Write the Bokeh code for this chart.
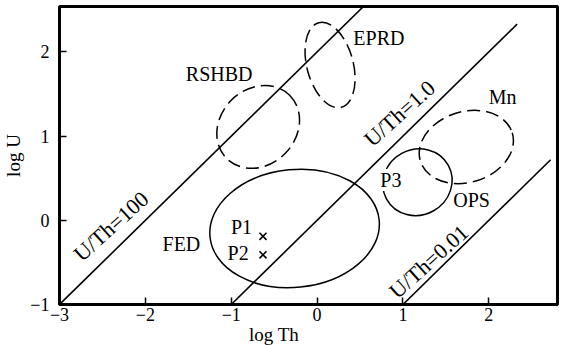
from bokeh.plotting import figure
from bokeh.models import Label, FixedTicker, Range1d, LinearAxis
from bokeh.embed import file_html
from bokeh.resources import INLINE
import math

# ---- data ----
x_ticks = [-3, -2, -1, 0, 1, 2]
x_tick_labels = ["\u22123", "\u22122", "\u22121", "0", "1", "2"]
y_ticks = [-1, 0, 1, 2]
y_tick_labels = ["\u22121", "0", "1", "2"]
x_title = "log Th"
x_title_pos = -0.5
y_title = "log U"

# U/Th ratio lines: log U = log Th + log10(ratio)
ratio_names = ["U/Th=100", "U/Th=1.0", "U/Th=0.01"]
ratio_log = [2.0, 0.0, -2.0]
ratio_x_start = [-3.0, -1.0, 1.0]
ratio_x_end = [0.54, 2.33, 2.72]
ratio_label_x = [-2.40, 0.96, 1.30]
ratio_label_y = [-0.07, 1.27, -0.49]

# field regions (ellipse approximations): centre, width, height, angle
region_names = ["RSHBD", "EPRD", "FED", "P3", "Mn"]
region_x = [-0.686, 0.151, -0.262, 1.169, 1.738]
region_y = [1.110, 1.845, -0.097, 0.453, 0.871]
region_w = [1.04, 1.02, 1.98, 0.82, 1.12]
region_h = [0.90, 0.55, 1.40, 0.78, 0.84]
region_angle = [0.79, 1.83, 0.10, 0.50, 0.30]
region_dashed = [True, True, False, False, True]

# text labels inside the plot
text_labels = ["RSHBD", "EPRD", "Mn", "P3", "OPS", "FED", "P1", "P2"]
text_x = [-1.14, 0.72, 2.16, 0.86, 1.80, -1.58, -0.88, -0.92]
text_y = [1.74, 2.17, 1.46, 0.48, 0.24, -0.28, -0.08, -0.39]

# sample points
sample_names = ["P1", "P2"]
sample_x = [-0.63, -0.63]
sample_y = [-0.19, -0.41]

FONT = "Liberation Serif"

p = figure(frame_width=498, frame_height=298,
           x_range=Range1d(-3, 2.8), y_range=Range1d(-1, 2.54),
           output_backend="svg", toolbar_location=None,
           min_border_left=54, min_border_right=3,
           min_border_top=6, min_border_bottom=41)
p.grid.visible = False
p.background_fill_color = "white"
p.border_fill_color = "white"
p.outline_line_color = "black"
p.outline_line_width = 3

for ax, ticks, labels in ((p.xaxis[0], x_ticks, x_tick_labels),
                          (p.yaxis[0], y_ticks, y_tick_labels)):
    ax.ticker = FixedTicker(ticks=ticks)
    ax.major_label_overrides = {t: l for t, l in zip(ticks, labels)}
    ax.axis_line_color = "black"
    ax.axis_line_width = 3
    ax.major_tick_in = 7
    ax.major_tick_out = 0
    ax.minor_tick_in = 0
    ax.minor_tick_out = 0
    ax.major_tick_line_width = 1.5
    ax.minor_tick_line_color = None
    ax.major_label_text_font = FONT
    ax.major_label_text_font_size = "18px"
    ax.major_label_text_color = "black"
p.xaxis[0].major_label_standoff = 3
p.yaxis[0].major_label_standoff = 10
p.yaxis[0].major_label_orientation = "horizontal"
p.yaxis[0].axis_label = y_title
p.yaxis[0].axis_label_standoff = 3
p.yaxis[0].axis_label_text_font = FONT
p.yaxis[0].axis_label_text_font_size = "19px"
p.yaxis[0].axis_label_text_font_style = "normal"
p.yaxis[0].axis_label_text_color = "black"

# second (label-only) axis below, carrying the x title at its position
ax2 = LinearAxis(ticker=FixedTicker(ticks=[x_title_pos]),
                 major_label_overrides={x_title_pos: x_title},
                 axis_line_color=None, major_tick_line_color=None,
                 minor_tick_line_color=None,
                 major_tick_in=0, major_tick_out=0,
                 minor_tick_in=0, minor_tick_out=0,
                 major_label_standoff=0,
                 major_label_text_font=FONT,
                 major_label_text_font_size="19px",
                 major_label_text_color="black")
p.add_layout(ax2, "below")

# ratio lines
for lr, x0, x1 in zip(ratio_log, ratio_x_start, ratio_x_end):
    p.segment(x0=[x0], y0=[x0 + lr], x1=[x1], y1=[x1 + lr],
              line_color="black", line_width=1.6)

# regions
for i in range(len(region_names)):
    p.ellipse(x=[region_x[i]], y=[region_y[i]], width=[region_w[i]],
              height=[region_h[i]], angle=[region_angle[i]],
              fill_color=None, line_color="black", line_width=1.5,
              line_dash="13 6" if region_dashed[i] else "solid")

# sample crosses
p.scatter(sample_x, sample_y, marker="x", size=10, line_color="black",
          line_width=1.6)

# ratio line labels
for name, lx, ly in zip(ratio_names, ratio_label_x, ratio_label_y):
    p.add_layout(Label(x=lx, y=ly, text=name, angle=math.radians(42),
                       text_align="center", text_baseline="middle",
                       text_font=FONT, text_font_size="22px",
                       text_color="black"))

# region labels
for name, lx, ly in zip(text_labels, text_x, text_y):
    kw = {}
    if name == "P3":
        kw = dict(background_fill_color="white")
    p.add_layout(Label(x=lx, y=ly, text=name,
                       text_align="center", text_baseline="middle",
                       text_font=FONT, text_font_size="20px",
                       text_color="black", **kw))

open("out.html", "w").write(file_html(p, INLINE))
